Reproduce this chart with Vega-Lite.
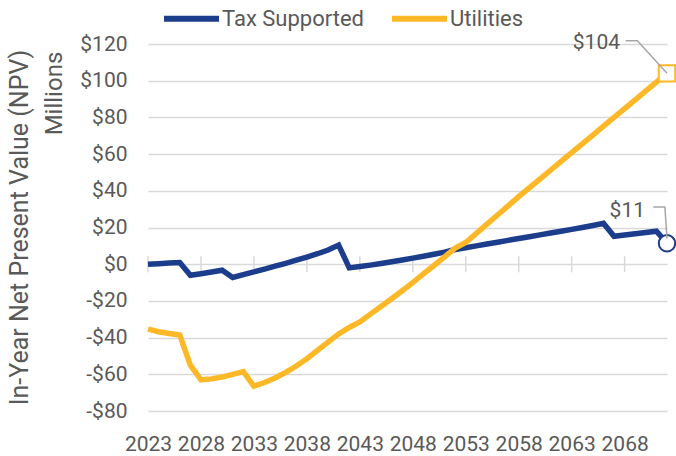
{
  "$schema": "https://vega.github.io/schema/vega-lite/v6.json",
  "width": 519,
  "height": 367,
  "autosize": {"type": "none"},
  "padding": {"left": 148, "top": 44, "right": 9, "bottom": 45},
  "background": "white",
  "config": {"view": {"stroke": null}, "font": "Roboto"},
  "datasets": {
    "npv": [
      {"series": "Tax Supported", "year": 2023, "value": 0},
      {"series": "Tax Supported", "year": 2024, "value": 0.3},
      {"series": "Tax Supported", "year": 2025, "value": 0.6},
      {"series": "Tax Supported", "year": 2026, "value": 0.9},
      {"series": "Tax Supported", "year": 2027, "value": -6.0},
      {"series": "Tax Supported", "year": 2028, "value": -5.2},
      {"series": "Tax Supported", "year": 2029, "value": -4.3},
      {"series": "Tax Supported", "year": 2030, "value": -3.3},
      {"series": "Tax Supported", "year": 2031, "value": -7.2},
      {"series": "Tax Supported", "year": 2032, "value": -5.7},
      {"series": "Tax Supported", "year": 2033, "value": -4.2},
      {"series": "Tax Supported", "year": 2034, "value": -2.7},
      {"series": "Tax Supported", "year": 2035, "value": -1.1},
      {"series": "Tax Supported", "year": 2036, "value": 0.5},
      {"series": "Tax Supported", "year": 2037, "value": 2.2},
      {"series": "Tax Supported", "year": 2038, "value": 3.9},
      {"series": "Tax Supported", "year": 2039, "value": 5.7},
      {"series": "Tax Supported", "year": 2040, "value": 7.7},
      {"series": "Tax Supported", "year": 2041, "value": 10.4},
      {"series": "Tax Supported", "year": 2042, "value": -2.0},
      {"series": "Tax Supported", "year": 2043, "value": -1.3},
      {"series": "Tax Supported", "year": 2044, "value": -0.5},
      {"series": "Tax Supported", "year": 2045, "value": 0.4},
      {"series": "Tax Supported", "year": 2046, "value": 1.3},
      {"series": "Tax Supported", "year": 2047, "value": 2.3},
      {"series": "Tax Supported", "year": 2048, "value": 3.3},
      {"series": "Tax Supported", "year": 2049, "value": 4.3},
      {"series": "Tax Supported", "year": 2050, "value": 5.4},
      {"series": "Tax Supported", "year": 2051, "value": 6.6},
      {"series": "Tax Supported", "year": 2052, "value": 8.0},
      {"series": "Tax Supported", "year": 2053, "value": 9.0},
      {"series": "Tax Supported", "year": 2054, "value": 10.0},
      {"series": "Tax Supported", "year": 2055, "value": 11.0},
      {"series": "Tax Supported", "year": 2056, "value": 12.0},
      {"series": "Tax Supported", "year": 2057, "value": 13.0},
      {"series": "Tax Supported", "year": 2058, "value": 14.0},
      {"series": "Tax Supported", "year": 2059, "value": 15.0},
      {"series": "Tax Supported", "year": 2060, "value": 16.0},
      {"series": "Tax Supported", "year": 2061, "value": 17.0},
      {"series": "Tax Supported", "year": 2062, "value": 18.0},
      {"series": "Tax Supported", "year": 2063, "value": 19.0},
      {"series": "Tax Supported", "year": 2064, "value": 20.0},
      {"series": "Tax Supported", "year": 2065, "value": 21.1},
      {"series": "Tax Supported", "year": 2066, "value": 22.3},
      {"series": "Tax Supported", "year": 2067, "value": 15.2},
      {"series": "Tax Supported", "year": 2068, "value": 15.9},
      {"series": "Tax Supported", "year": 2069, "value": 16.6},
      {"series": "Tax Supported", "year": 2070, "value": 17.3},
      {"series": "Tax Supported", "year": 2071, "value": 18.0},
      {"series": "Tax Supported", "year": 2072, "value": 11.4},
      {"series": "Utilities", "year": 2023, "value": -35.4},
      {"series": "Utilities", "year": 2024, "value": -36.8},
      {"series": "Utilities", "year": 2025, "value": -37.8},
      {"series": "Utilities", "year": 2026, "value": -38.6},
      {"series": "Utilities", "year": 2027, "value": -55.0},
      {"series": "Utilities", "year": 2028, "value": -63.0},
      {"series": "Utilities", "year": 2029, "value": -62.5},
      {"series": "Utilities", "year": 2030, "value": -61.5},
      {"series": "Utilities", "year": 2031, "value": -60.0},
      {"series": "Utilities", "year": 2032, "value": -58.5},
      {"series": "Utilities", "year": 2033, "value": -66.5},
      {"series": "Utilities", "year": 2034, "value": -64.5},
      {"series": "Utilities", "year": 2035, "value": -62.0},
      {"series": "Utilities", "year": 2036, "value": -59.0},
      {"series": "Utilities", "year": 2037, "value": -55.5},
      {"series": "Utilities", "year": 2038, "value": -51.5},
      {"series": "Utilities", "year": 2039, "value": -47.0},
      {"series": "Utilities", "year": 2040, "value": -42.5},
      {"series": "Utilities", "year": 2041, "value": -38.0},
      {"series": "Utilities", "year": 2042, "value": -34.5},
      {"series": "Utilities", "year": 2043, "value": -31.5},
      {"series": "Utilities", "year": 2044, "value": -27.2},
      {"series": "Utilities", "year": 2045, "value": -23.0},
      {"series": "Utilities", "year": 2046, "value": -18.8},
      {"series": "Utilities", "year": 2047, "value": -14.5},
      {"series": "Utilities", "year": 2048, "value": -10.0},
      {"series": "Utilities", "year": 2049, "value": -5.3},
      {"series": "Utilities", "year": 2050, "value": -0.7},
      {"series": "Utilities", "year": 2051, "value": 4.0},
      {"series": "Utilities", "year": 2052, "value": 8.8},
      {"series": "Utilities", "year": 2053, "value": 11.8},
      {"series": "Utilities", "year": 2054, "value": 16.8},
      {"series": "Utilities", "year": 2055, "value": 21.8},
      {"series": "Utilities", "year": 2056, "value": 26.8},
      {"series": "Utilities", "year": 2057, "value": 31.8},
      {"series": "Utilities", "year": 2058, "value": 36.8},
      {"series": "Utilities", "year": 2059, "value": 41.6},
      {"series": "Utilities", "year": 2060, "value": 46.4},
      {"series": "Utilities", "year": 2061, "value": 51.2},
      {"series": "Utilities", "year": 2062, "value": 56.0},
      {"series": "Utilities", "year": 2063, "value": 60.8},
      {"series": "Utilities", "year": 2064, "value": 65.6},
      {"series": "Utilities", "year": 2065, "value": 70.4},
      {"series": "Utilities", "year": 2066, "value": 75.2},
      {"series": "Utilities", "year": 2067, "value": 80.0},
      {"series": "Utilities", "year": 2068, "value": 84.8},
      {"series": "Utilities", "year": 2069, "value": 89.6},
      {"series": "Utilities", "year": 2070, "value": 94.4},
      {"series": "Utilities", "year": 2071, "value": 99.2},
      {"series": "Utilities", "year": 2072, "value": 104.0}
    ],
    "leaders": [
      {"grp": "u", "ord": 1, "year": 2068.1, "value": 121.8},
      {"grp": "u", "ord": 2, "year": 2069.2, "value": 121.8},
      {"grp": "u", "ord": 3, "year": 2072, "value": 104.0},
      {"grp": "t", "ord": 1, "year": 2070.7, "value": 31.2},
      {"grp": "t", "ord": 2, "year": 2071.8, "value": 31.2},
      {"grp": "t", "ord": 3, "year": 2072, "value": 14.0}
    ],
    "xticks": [
      {"year": 2023}, {"year": 2028}, {"year": 2033}, {"year": 2038}, {"year": 2043},
      {"year": 2048}, {"year": 2053}, {"year": 2058}, {"year": 2063}, {"year": 2068}
    ],
    "note": [{"label": "Millions"}]
  },
  "layer": [
    {
      "data": {"name": "xticks"},
      "mark": {"type": "rule", "color": "#d9d9d9", "strokeWidth": 1.5},
      "encoding": {
        "x": {"field": "year", "type": "quantitative", "axis": null},
        "y": {"datum": 4.4, "type": "quantitative", "axis": null},
        "y2": {"datum": -4.4}
      }
    },
    {
      "data": {"name": "npv"},
      "mark": {"type": "line", "strokeWidth": 5.5, "strokeCap": "butt", "strokeJoin": "miter"},
      "encoding": {
        "x": {
          "field": "year", "type": "quantitative",
          "scale": {"domain": [2023, 2072], "nice": false, "zero": false},
          "axis": {
            "title": null, "values": [2023, 2028, 2033, 2038, 2043, 2048, 2053, 2058, 2063, 2068],
            "format": "d", "grid": false, "domain": false, "ticks": false,
            "labelFontSize": 21, "labelColor": "#595959", "labelPadding": 22,
            "labelOverlap": false, "labelFlush": false
          }
        },
        "y": {
          "field": "value", "type": "quantitative",
          "scale": {"domain": [-80, 120], "nice": false, "zero": false},
          "axis": {
            "title": "In-Year Net Present Value (NPV)",
            "titleFontSize": 25, "titleFontWeight": "normal", "titleColor": "#595959",
            "titleX": -121, "titleY": 183, "titleAngle": -90, "titleBaseline": "alphabetic", "titleAlign": "center",
            "values": [-80, -60, -40, -20, 0, 20, 40, 60, 80, 100, 120],
            "labelExpr": "datum.value < 0 ? '-$' + abs(datum.value) : '$' + datum.value",
            "grid": true, "gridColor": "#d9d9d9", "gridWidth": 1.3,
            "domain": false, "ticks": false, "labelOverlap": false,
            "labelFontSize": 21, "labelColor": "#595959", "labelPadding": 21
          }
        },
        "color": {
          "field": "series", "type": "nominal",
          "scale": {"domain": ["Tax Supported", "Utilities"], "range": ["#1B3D8C", "#FDB827"]},
          "legend": {
            "title": null, "orient": "none", "legendX": 13, "legendY": -56,
            "direction": "horizontal", "symbolType": "stroke", "symbolSize": 3025,
            "symbolStrokeWidth": 6, "labelFontSize": 22, "labelColor": "#595959",
            "columnPadding": 16, "labelOffset": 0, "padding": 0
          }
        }
      }
    },
    {
      "data": {"name": "npv"},
      "transform": [{"filter": "datum.year == 2072 && datum.series == 'Utilities'"}],
      "mark": {"type": "point", "shape": "square", "fill": "white", "stroke": "#FDB827", "strokeWidth": 2, "size": 270, "opacity": 1, "fillOpacity": 1},
      "encoding": {
        "x": {"field": "year", "type": "quantitative", "axis": null},
        "y": {"field": "value", "type": "quantitative", "axis": null}
      }
    },
    {
      "data": {"name": "npv"},
      "transform": [{"filter": "datum.year == 2072 && datum.series == 'Tax Supported'"}],
      "mark": {"type": "point", "shape": "circle", "fill": "white", "stroke": "#1B3D8C", "strokeWidth": 2, "size": 270, "opacity": 1, "fillOpacity": 1},
      "encoding": {
        "x": {"field": "year", "type": "quantitative", "axis": null},
        "y": {"field": "value", "type": "quantitative", "axis": null}
      }
    },
    {
      "data": {"name": "leaders"},
      "mark": {"type": "line", "stroke": "#a6a6a6", "strokeWidth": 1.5},
      "encoding": {
        "x": {"field": "year", "type": "quantitative", "axis": null},
        "y": {"field": "value", "type": "quantitative", "axis": null},
        "detail": {"field": "grp"},
        "order": {"field": "ord"}
      }
    },
    {
      "data": {"name": "npv"},
      "transform": [{"filter": "datum.year == 2072 && datum.series == 'Utilities'"}],
      "mark": {"type": "text", "align": "right", "baseline": "middle", "dx": -47, "dy": -30, "fontSize": 21, "color": "#595959"},
      "encoding": {
        "x": {"field": "year", "type": "quantitative", "axis": null},
        "y": {"field": "value", "type": "quantitative", "axis": null},
        "text": {"field": "value", "type": "quantitative", "format": "$.0f"}
      }
    },
    {
      "data": {"name": "npv"},
      "transform": [{"filter": "datum.year == 2072 && datum.series == 'Tax Supported'"}],
      "mark": {"type": "text", "align": "right", "baseline": "middle", "dx": -22, "dy": -32, "fontSize": 21, "color": "#595959"},
      "encoding": {
        "x": {"field": "year", "type": "quantitative", "axis": null},
        "y": {"field": "value", "type": "quantitative", "axis": null},
        "text": {"field": "value", "type": "quantitative", "format": "$.0f"}
      }
    },
    {
      "data": {"name": "note"},
      "mark": {"type": "text", "angle": 270, "align": "center", "baseline": "alphabetic", "dy": -86, "fontSize": 24, "color": "#595959"},
      "encoding": {
        "x": {"datum": 2023, "type": "quantitative", "axis": null},
        "y": {"datum": 93, "type": "quantitative", "axis": null},
        "text": {"field": "label", "type": "nominal"}
      }
    }
  ],
  "resolve": {"axis": {"x": "independent", "y": "independent"}}
}
